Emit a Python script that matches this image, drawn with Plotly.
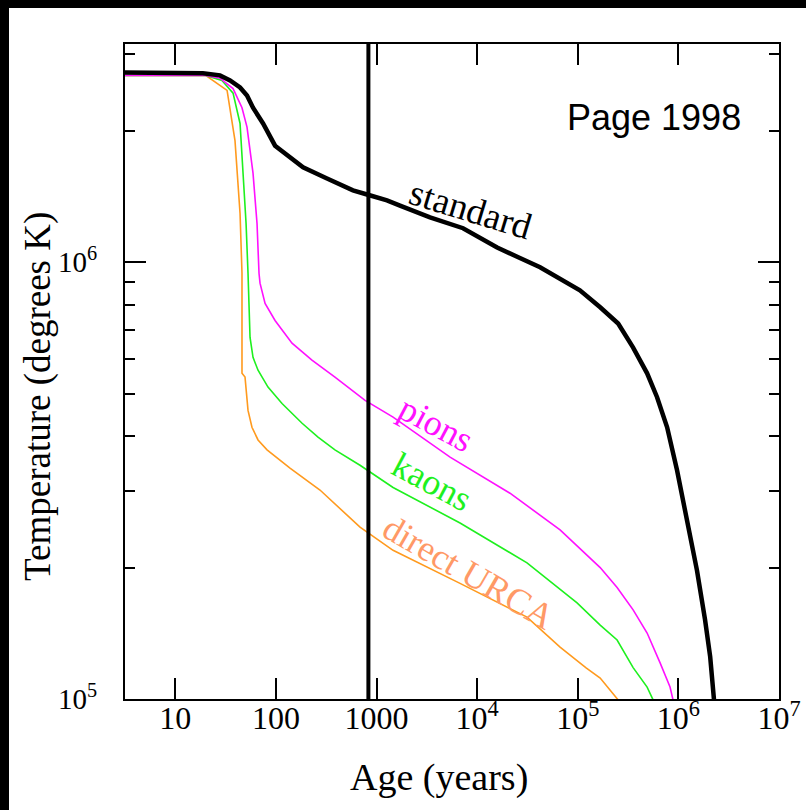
import plotly.graph_objects as go

# Neutron star surface temperature vs age for several cooling scenarios
std_age = [3.16, 18.8, 27.8, 35.0, 44.0, 51.6, 59.2, 74.5, 98, 129, 186, 322, 583, 805, 1270,
           1710, 3400, 7240, 15800, 42200, 66700, 105000, 167000, 252000, 355000, 489000,
           614000, 773000, 970000, 1.22e6, 1.53e6, 1.84e6, 2.07e6, 2.26e6]
std_temp = [2.72e6, 2.71e6, 2.68e6, 2.61e6, 2.515e6, 2.41e6, 2.26e6, 2.08e6, 1.85e6, 1.76e6,
            1.65e6, 1.556e6, 1.462e6, 1.43e6, 1.387e6, 1.349e6, 1.268e6, 1.197e6, 1.081e6,
            9.74e5, 9.18e5, 8.63e5, 7.89e5, 7.24e5, 6.38e5, 5.57e5, 4.91e5, 4.19e5, 3.34e5,
            2.57e5, 1.97e5, 1.52e5, 1.25e5, 9.95e4]

pion_age = [3.16, 20.0, 27.8, 37.5, 46.0, 51.6, 59.2, 64.9, 67.9, 69.5, 78.0, 98, 144.5, 228,
            386, 769, 1460, 5380, 21200, 66700, 167000, 246000, 355000, 489000, 658000,
            826000, 885000]
pion_temp = [2.68e6, 2.68e6, 2.64e6, 2.50e6, 2.26e6, 2.04e6, 1.60e6, 1.227e6, 9.44e5, 8.96e5,
             8.05e5, 7.36e5, 6.53e5, 5.97e5, 5.46e5, 4.83e5, 4.42e5, 3.58e5, 2.96e5, 2.44e5,
             2.00e5, 1.80e5, 1.60e5, 1.416e5, 1.21e5, 1.065e5, 9.95e4]

kaon_age = [3.16, 20.0, 29.1, 37.5, 44.0, 47.1, 50.5, 52.8, 55.3, 59.2, 66.4, 83.4, 115, 182,
            262, 386, 685, 1460, 6760, 31300, 98400, 167000, 246000, 355000, 489000, 561000]
kaon_temp = [2.68e6, 2.68e6, 2.61e6, 2.44e6, 2.08e6, 1.60e6, 1.227e6, 9.44e5, 6.73e5, 6.06e5,
             5.66e5, 5.18e5, 4.75e5, 4.28e5, 3.98e5, 3.72e5, 3.43e5, 3.05e5, 2.53e5, 2.05e5,
             1.66e5, 1.476e5, 1.365e5, 1.18e5, 1.065e5, 9.95e4]

urca_age = [3.16, 20.0, 32.7, 39.2, 44.0, 46.0, 46.0, 49.3, 52.8, 57.8, 66.4, 81.6, 138, 274,
            685, 1460, 6760, 31300, 66700, 121000, 167000, 252000]
urca_temp = [2.68e6, 2.68e6, 2.475e6, 1.90e6, 1.294e6, 9.44e5, 5.57e5, 5.46e5, 4.58e5, 4.19e5,
             3.92e5, 3.72e5, 3.38e5, 3.01e5, 2.475e5, 2.19e5, 1.84e5, 1.54e5, 1.315e5, 1.178e5,
             1.117e5, 9.95e4]

marker_age = 830  # vertical reference age

x_tickvals = [10, 100, 1000, 1e4, 1e5, 1e6, 1e7]
x_ticktext = ["10", "100", "1000", "10<sup>4</sup>", "10<sup>5</sup>", "10<sup>6</sup>",
              "10<sup>7</sup>"]
y_tickvals = [1e5, 1e6]
y_ticktext = ["10<sup>5</sup>", "10<sup>6</sup>"]
y_minor = [2e5, 3e5, 4e5, 5e5, 6e5, 7e5, 8e5, 9e5, 2e6, 3e6]

SERIF = "Liberation Serif, Times New Roman, serif"

fig = go.Figure()
fig.add_trace(go.Scatter(x=urca_age, y=urca_temp, mode="lines",
                         line=dict(color="#FF9A1E", width=1.6)))
fig.add_trace(go.Scatter(x=kaon_age, y=kaon_temp, mode="lines",
                         line=dict(color="#1EF01E", width=1.6)))
fig.add_trace(go.Scatter(x=pion_age, y=pion_temp, mode="lines",
                         line=dict(color="#FF10FF", width=1.6)))
fig.add_trace(go.Scatter(x=std_age, y=std_temp, mode="lines",
                         line=dict(color="black", width=4.5)))

fig.add_shape(type="line", xref="x", yref="paper", x0=marker_age, x1=marker_age,
              y0=0, y1=1, line=dict(color="black", width=4))

# dark strips along the top and left edges of the page
W, H = 806, 810
L, R, T, B = 125, 27, 44, 111
pw, ph = W - L - R, H - T - B


def px_x(p):
    return (p - L) / pw


def px_y(p):
    return (H - B - p) / ph


fig.add_shape(type="rect", xref="paper", yref="paper", x0=px_x(0), x1=px_x(9),
              y0=px_y(H), y1=px_y(0), fillcolor="black", line=dict(width=0), layer="above")
fig.add_shape(type="rect", xref="paper", yref="paper", x0=px_x(0), x1=px_x(W),
              y0=px_y(8), y1=px_y(0), fillcolor="black", line=dict(width=0), layer="above")

labels = [
    ("standard", 3.94, 6.121, 17, "black", 37),
    ("pions", 3.59, 5.629, 28, "#FF10FF", 36),
    ("kaons", 3.552, 5.497, 28, "#1EF01E", 36),
    ("direct URCA", 3.91, 5.29, 30, "#FF9966", 36),
]
for text, lx, ly, ang, col, size in labels:
    fig.add_annotation(x=lx, y=ly, xref="x", yref="y", text=text, showarrow=False,
                       textangle=ang, xanchor="center", yanchor="middle",
                       font=dict(family=SERIF, size=size, color=col))

fig.add_annotation(x=px_x(654), y=px_y(117), xref="paper", yref="paper", text="Page 1998",
                   showarrow=False, xanchor="center", yanchor="middle",
                   font=dict(family="Liberation Sans, Arial, sans-serif", size=36,
                             color="black"))
fig.add_annotation(x=px_x(439), y=px_y(778), xref="paper", yref="paper", text="Age (years)",
                   showarrow=False, xanchor="center", yanchor="middle",
                   font=dict(family=SERIF, size=38, color="black"))
fig.add_annotation(x=px_x(38), y=px_y(397), xref="paper", yref="paper",
                   text="Temperature (degrees K)", textangle=-90, showarrow=False,
                   xanchor="center", yanchor="middle",
                   font=dict(family=SERIF, size=37, color="black"))

fig.update_xaxes(type="log", range=[0.5, 7], tickvals=x_tickvals, ticktext=x_ticktext,
                 ticks="inside", ticklen=21, tickwidth=1.5, tickcolor="black",
                 showline=True, linecolor="black", linewidth=2, mirror="ticks",
                 showgrid=False, zeroline=False, ticklabelstandoff=-10, automargin=False,
                 tickfont=dict(family=SERIF, size=32, color="black"))
fig.update_yaxes(type="log", range=[5, 6.5], tickvals=y_tickvals, ticktext=y_ticktext,
                 ticks="inside", ticklen=21, tickwidth=1.5, tickcolor="black",
                 minor=dict(tickvals=y_minor, ticks="inside", ticklen=10, tickwidth=1.5,
                            tickcolor="black", showgrid=False),
                 showline=True, linecolor="black", linewidth=2, mirror="ticks",
                 showgrid=False, zeroline=False, ticklabelstandoff=20, automargin=False,
                 tickfont=dict(family=SERIF, size=29, color="black"))

fig.update_layout(width=W, height=H, autosize=False, margin=dict(l=L, r=R, t=T, b=B),
                  paper_bgcolor="white", plot_bgcolor="white", showlegend=False)

fig.write_html("out.html", config={"responsive": False})
